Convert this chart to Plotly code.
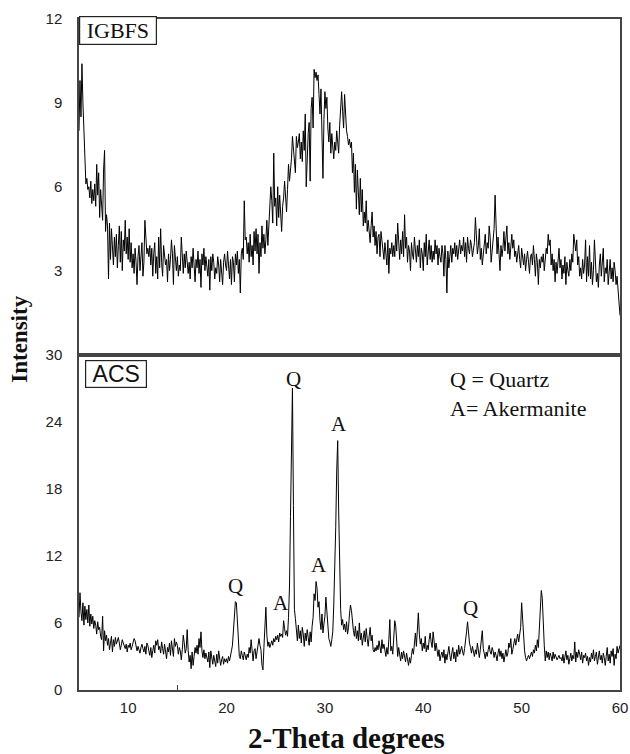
import numpy as np
import plotly.graph_objects as go
from plotly.subplots import make_subplots

# 2-theta grid: 5.0 to 60.0 in 0.1 deg steps
two_theta = [round(5 + 0.1 * i, 1) for i in range(551)]

igbfs = [
    8.0, 9.8, 8.5, 10.4, 9.0, 8.2, 7.2, 6.1, 6.3, 5.9,
    6.0, 5.6, 6.2, 5.4, 5.9, 5.5, 6.1, 5.3, 6.8, 5.7,
    6.5, 4.9, 5.9, 5.2, 4.8, 6.6, 7.3, 4.4, 5.0, 4.6,
    2.7, 4.7, 3.4, 4.5, 3.9, 3.2, 4.2, 3.5, 4.3, 3.1,
    3.9, 4.6, 3.3, 4.4, 3.0, 4.1, 3.7, 4.8, 3.6, 4.2,
    3.4, 4.5, 3.3, 4.0, 3.1, 3.6, 2.9, 3.8, 3.3, 2.5,
    3.5, 3.9, 3.0, 3.7, 4.0, 2.8, 3.3, 4.8, 4.3, 3.6,
    3.8, 3.5, 3.9, 3.2, 3.8, 2.8, 3.6, 4.0, 2.9, 3.5,
    2.7, 4.2, 3.1, 4.5, 3.3, 2.8, 3.9, 3.5, 3.2, 3.4,
    2.6, 3.6, 3.0, 3.4, 4.1, 3.6, 2.5, 3.9, 3.3, 3.0,
    3.5, 2.8, 3.2, 3.0, 4.2, 3.3, 2.9, 3.6, 3.1, 3.7,
    3.4, 2.9, 3.3, 2.7, 3.5, 3.1, 3.8, 3.2, 2.6, 3.4,
    3.1, 3.7, 2.9, 3.4, 2.4, 3.6, 3.2, 3.8, 3.0, 3.5,
    3.2, 2.8, 3.4, 2.3, 3.5, 3.0, 3.6, 3.3, 2.7, 3.1,
    2.9, 3.5, 3.2, 2.6, 3.4, 3.0, 2.5, 3.3, 3.6, 3.2,
    3.0, 3.7, 3.2, 2.7, 3.4, 2.5, 3.5, 3.3, 2.6, 3.6,
    3.2, 3.7, 2.9, 3.4, 2.2, 3.6, 3.8, 3.4, 5.5, 4.1,
    4.2, 3.6, 4.0, 3.3, 4.3, 3.5, 3.9, 3.2, 4.4, 3.7,
    4.5, 3.6, 4.3, 2.9, 4.0, 3.5, 4.6, 3.8, 4.3, 3.6,
    4.1, 4.8, 3.9, 4.7, 5.2, 6.0, 5.5, 4.7, 7.2, 5.3,
    5.6, 4.6, 6.0, 4.9, 5.7, 5.2, 4.4, 5.3, 5.6, 6.2,
    5.8, 5.1, 5.9, 6.8, 6.2, 6.6, 7.0, 7.8, 7.3, 7.1,
    6.5, 7.8, 7.4, 7.6, 7.9, 7.0, 7.6, 6.9, 8.0, 7.3,
    8.6, 6.0, 7.5, 7.9, 8.3, 6.2, 8.8, 9.2, 8.1, 10.2,
    9.9, 10.1, 9.8, 10.0, 9.3, 8.6, 9.5, 8.0, 6.3, 8.4,
    9.4, 8.8, 9.2, 8.1, 7.6, 8.3, 7.2, 7.9, 7.4, 7.0,
    7.6, 7.3, 8.0, 7.5, 7.2, 8.2, 9.0, 9.4, 8.7, 8.1,
    9.3, 8.6, 8.0, 7.8, 7.5, 7.7, 7.4, 7.6, 6.5, 7.2,
    5.8, 6.8, 5.2, 6.6, 5.5, 5.0, 6.3, 5.1, 5.9, 4.6,
    5.1, 4.7, 5.5, 4.4, 4.8, 4.5, 4.0, 4.6, 5.1, 4.2,
    4.6, 3.9, 4.4, 3.6, 4.2, 4.3, 3.5, 4.4, 4.1, 3.8,
    3.4, 4.0, 3.7, 3.2, 4.1, 2.9, 3.8, 3.6, 4.0, 3.5,
    3.9, 3.5, 4.3, 3.7, 4.7, 3.9, 3.4, 4.1, 3.6, 4.4,
    3.5, 5.0, 3.8, 4.2, 3.3, 3.9, 3.7, 3.0, 4.0, 3.6,
    3.4, 4.2, 3.7, 3.3, 3.9, 3.5, 4.1, 3.1, 3.8, 3.6,
    3.0, 4.0, 3.5, 4.3, 3.2, 3.8, 4.1, 3.4, 3.9, 3.3,
    3.7, 3.4, 4.1, 3.6, 3.9, 3.2, 3.8, 3.5, 3.3, 3.9,
    3.6, 2.8, 3.9, 3.4, 2.2, 3.7, 3.1, 3.5, 3.9, 3.3,
    3.8, 3.6, 4.0, 3.5, 3.9, 3.4, 3.8, 4.1, 3.6, 3.9,
    3.7, 4.2, 3.5, 4.0, 3.3, 4.2, 3.8, 3.6, 4.1, 3.9,
    3.5, 3.8, 4.0, 4.9, 4.4, 3.6, 3.9, 4.5, 3.4, 3.8,
    3.2, 3.5, 3.9, 4.3, 3.6, 4.0, 3.8, 4.6, 4.2, 3.3,
    3.7, 4.1, 4.5, 5.7, 4.3, 3.6, 4.2, 3.7, 3.0, 3.9,
    3.5, 3.8, 4.4, 3.7, 4.1, 4.6, 3.6, 4.0, 3.4, 3.9,
    4.3, 3.8, 4.1, 3.5, 3.7, 3.3, 3.6, 3.9, 3.4, 3.1,
    3.8, 3.5, 3.2, 3.6, 3.0, 3.4, 3.7, 3.3, 2.9, 3.5,
    3.6, 3.2, 3.9, 3.4, 2.8, 3.6, 3.3, 2.5, 3.4, 3.1,
    3.5, 3.3, 3.6, 3.0, 3.4, 3.8, 3.6, 4.3, 3.9, 4.1,
    3.2, 3.6, 3.0, 3.4, 2.6, 3.3, 2.9, 3.5, 3.8, 3.1,
    3.4, 2.7, 3.2, 2.9, 3.5, 2.5, 3.3, 3.0, 2.8, 3.4,
    3.0, 3.6, 3.3, 4.3, 4.0, 3.7, 4.1, 3.2, 3.5, 2.8,
    3.1, 2.7, 3.4, 2.9, 3.2, 4.1, 2.6, 3.5, 2.8, 3.9,
    2.7, 3.3, 2.5, 3.0, 4.1, 3.4, 2.6, 2.9, 2.4, 3.2,
    3.6, 2.8, 3.3, 3.8, 2.6, 3.1, 2.9, 3.4, 2.5, 3.0,
    3.4, 2.7, 3.1, 2.6, 3.3, 3.0, 2.5, 2.8, 2.4, 1.9,
    1.4,
]

acs = [
    6.5, 8.7, 7.0, 6.2, 7.8, 5.8, 7.5, 6.3, 7.2, 6.0,
    7.6, 5.7, 6.8, 5.9, 6.6, 5.5, 6.2, 5.8, 5.0, 6.1,
    5.4, 5.6, 4.8, 4.5, 6.6, 3.5, 5.3, 4.4, 4.9, 4.0,
    4.6, 3.6, 4.2, 4.8, 3.4, 4.5, 3.9, 4.7, 4.1, 4.4,
    4.7, 4.2, 3.6, 4.0, 4.5, 4.2, 3.8, 3.7, 4.1, 3.4,
    4.0, 3.8, 4.2, 3.6, 3.9, 4.3, 4.6, 4.4, 4.0, 3.5,
    3.9, 3.6, 3.3, 3.8, 4.1, 3.7, 3.4, 3.9, 3.2, 4.2,
    4.0, 3.5, 3.1, 3.8, 2.9, 3.5, 4.0, 3.3, 4.4, 4.0,
    4.5, 3.6, 3.9, 3.3, 4.3, 3.7, 3.2, 4.1, 3.5, 2.8,
    3.8, 3.4, 4.2, 3.1, 4.4, 3.7, 3.0, 4.6, 3.9, 4.3,
    4.0, 3.2, 3.8, 3.5, 2.7, 3.6, 4.9, 4.2, 3.3, 3.7,
    5.4, 3.5, 2.5, 3.1, 1.9, 3.4, 2.2, 3.0, 3.8, 3.3,
    4.0, 3.2, 4.6, 3.8, 5.2, 3.5, 2.9, 3.6, 2.8, 3.3,
    3.0, 2.5, 3.4, 2.0, 3.5, 2.8, 2.3, 3.1, 2.6, 2.1,
    3.2, 2.4, 3.5, 2.9, 2.2, 2.7, 3.0, 2.3, 2.8, 2.5,
    2.8, 2.4, 3.0, 2.6, 3.3, 3.5, 4.0, 5.2, 6.4, 7.9,
    7.8, 6.0, 4.2, 3.0, 2.8, 3.5, 3.1, 2.7, 3.4, 3.0,
    2.7, 3.2, 2.9, 3.8, 3.3, 4.5, 3.0, 2.6, 3.5, 3.7,
    2.8, 3.4, 4.2, 4.6, 4.0, 3.6, 2.2, 1.8, 3.8, 5.5,
    7.4, 4.9, 3.9, 4.3, 3.8, 4.1, 4.4, 4.0, 4.6, 4.3,
    4.8, 4.5, 4.9, 4.3, 5.1, 4.8, 5.0, 4.7, 6.2, 5.5,
    4.9, 5.3, 4.8, 6.5, 9.3, 15.5, 23.5, 27.0, 16.5, 7.2,
    6.4, 5.2, 4.4, 5.8, 4.6, 5.3, 4.2, 5.6, 5.0, 3.9,
    5.1, 4.4, 5.4, 4.7, 4.0, 5.2, 4.3, 5.7, 6.5, 8.6,
    8.0, 9.7, 9.1, 7.4, 7.9, 6.2, 5.4, 6.8, 5.1, 5.9,
    6.6, 8.3, 7.2, 5.6, 4.6, 4.3, 3.9, 4.5, 5.2, 7.6,
    10.8, 14.5, 19.6, 22.3, 16.0, 9.5, 7.2, 5.8, 6.3, 5.4,
    5.9, 5.2, 6.1, 5.0, 5.6, 6.8, 7.6, 7.1, 5.9, 5.3,
    4.8, 5.7, 4.6, 5.3, 4.4, 6.0, 4.5, 5.1, 4.0, 4.7,
    5.3, 4.3, 5.5, 4.6, 3.9, 4.8, 5.6, 4.4, 4.9, 3.6,
    3.4, 3.8, 3.5, 4.0, 3.6, 4.4, 3.9, 3.3, 4.5, 3.7,
    4.1, 3.4, 3.0, 3.8, 3.2, 4.5, 6.3, 3.5, 3.9, 3.2,
    5.4, 6.2, 5.7, 3.6, 3.0, 3.8, 3.2, 2.6, 3.4, 2.8,
    3.5, 3.0, 2.5, 3.3, 2.7, 2.2, 2.9, 2.4, 3.1, 3.7,
    3.2, 4.6, 5.1, 3.9, 5.4, 6.9, 5.0, 4.1, 4.6, 3.5,
    4.2, 3.7, 4.8, 3.4, 4.0, 3.6, 4.5, 5.1, 4.3, 3.8,
    5.2, 4.0, 3.5, 4.2, 3.3, 3.0, 3.6, 2.6, 3.1, 3.4,
    2.9, 3.6, 2.4, 3.2, 2.7, 3.5, 3.9, 3.1, 2.6, 3.3,
    3.8, 2.8, 3.4, 2.5, 3.6, 3.0, 4.0, 3.2, 3.6, 3.9,
    3.4, 3.1, 3.7, 4.3, 5.2, 6.1, 5.0, 4.2, 3.8, 3.3,
    3.9, 3.4, 3.0, 3.6, 3.2, 4.2, 3.5, 2.9, 3.6, 4.5,
    5.3, 3.7, 3.1, 2.8, 3.4, 3.0, 3.6, 4.0, 3.4, 3.2,
    3.8, 3.5, 2.9, 3.4, 3.1, 2.6, 3.3, 3.7, 3.0, 3.5,
    2.8, 3.3, 2.5, 3.1, 3.6, 3.0, 3.3, 4.2, 3.8, 4.6,
    3.2, 3.6, 4.1, 4.6, 4.0, 4.5, 5.0, 4.3, 4.8, 5.6,
    7.8, 6.2, 4.6, 3.5, 2.9, 2.6, 2.9, 3.1, 2.8, 3.2,
    3.4, 3.0, 3.6, 3.3, 4.0, 3.5, 4.5, 3.8, 5.2, 7.0,
    8.9, 8.2, 5.3, 4.0, 2.6, 3.5, 2.9, 3.4, 2.7, 3.3,
    3.0, 2.6, 3.4, 2.8, 3.2, 2.9, 2.7, 2.9, 3.1, 2.8,
    2.9, 2.6, 3.2, 2.4, 3.0, 3.5, 2.7, 3.1, 2.3, 2.9,
    3.3, 2.6, 3.1, 2.8, 4.3, 2.5, 3.4, 2.9, 3.6, 3.2,
    2.7, 3.4, 2.4, 3.1, 2.9, 3.3, 2.6, 3.0, 2.2, 2.9,
    2.5, 3.3, 2.8, 3.6, 2.6, 3.0, 3.4, 2.3, 2.9, 3.5,
    2.7, 3.1, 2.4, 3.3, 2.9, 2.2, 3.0, 3.8, 2.6, 3.2,
    2.4, 3.5, 3.0, 3.7, 2.2, 3.2, 2.8, 3.9, 3.3, 3.6,
    4.0,
]

x_ticks = [10, 20, 30, 40, 50, 60]
top_ticks = [3, 6, 9, 12]
bottom_ticks = [0, 6, 12, 18, 24, 30]

# peak labels for the ACS pattern: (2-theta, intensity, label)
peak_x = [20.9, 25.5, 26.8, 29.4, 31.4, 44.8]
peak_y = [9.3, 7.8, 27.8, 11.2, 23.8, 7.3]
peak_lbl = ["Q", "A", "Q", "A", "A", "Q"]

SERIF = "Liberation Serif, Times New Roman, serif"
SANS = "Liberation Sans, Arial, sans-serif"
FRAME = "#444444"

fig = make_subplots(rows=2, cols=1, shared_xaxes=True, vertical_spacing=0)

fig.add_trace(go.Scatter(x=two_theta, y=igbfs, mode="lines",
                         line=dict(color="black", width=1), showlegend=False,
                         hoverinfo="skip"),
              row=1, col=1)
fig.add_trace(go.Scatter(x=two_theta, y=acs, mode="lines",
                         line=dict(color="black", width=1), showlegend=False,
                         hoverinfo="skip"),
              row=2, col=1)

axis_common = dict(showgrid=False, zeroline=False, showline=True, mirror=True,
                   linecolor=FRAME, linewidth=1.5, ticks="", automargin=False,
                   tickfont=dict(family=SANS, size=15, color="#222222"))

fig.update_xaxes(range=[5, 60], tickvals=x_ticks, **axis_common)
fig.update_xaxes(showticklabels=False, row=1, col=1)
fig.update_xaxes(ticklabelstandoff=3, row=2, col=1,
                 minor=dict(tickvals=[15], ticks="inside", ticklen=5,
                            tickcolor=FRAME, tickwidth=1.2, showgrid=False))
fig.update_yaxes(range=[0, 12], tickvals=top_ticks, ticklabelstandoff=12,
                 row=1, col=1, **axis_common)
fig.update_yaxes(range=[0, 30], tickvals=bottom_ticks, ticklabelstandoff=12,
                 row=2, col=1, **axis_common)

annotations = []
for px_, py_, lb in zip(peak_x, peak_y, peak_lbl):
    annotations.append(dict(x=px_, y=py_, xref="x2", yref="y2", text=lb,
                            showarrow=False, font=dict(family=SERIF, size=21, color="#111")))

annotations += [
    dict(x=42.5, y=27.8, xref="x2", yref="y2", text="Q = Quartz", xanchor="left",
         showarrow=False, font=dict(family=SERIF, size=22, color="#111")),
    dict(x=42.5, y=25.2, xref="x2", yref="y2", text="A= Akermanite", xanchor="left",
         showarrow=False, font=dict(family=SERIF, size=22, color="#111")),
    dict(x=0, y=1, xref="paper", yref="paper", xanchor="left", yanchor="top",
         yshift=3, text="&nbsp;IGBFS&nbsp;", showarrow=False, bgcolor="white",
         bordercolor="#222", borderwidth=1.2, borderpad=1,
         font=dict(family=SERIF, size=22, color="#111")),
    dict(x=0.011, y=0.492, xref="paper", yref="paper", xanchor="left", yanchor="top",
         text="&nbsp;ACS&nbsp;", showarrow=False, bordercolor="#222", borderwidth=1.2,
         borderpad=0, font=dict(family=SANS, size=23, color="#111")),
    dict(x=0.495, y=-0.072, xref="paper", yref="paper", xanchor="center", yanchor="middle",
         text="<b>2-Theta degrees</b>", showarrow=False,
         font=dict(family=SERIF, size=29, color="#111")),
    dict(x=-0.109, y=0.522, xref="paper", yref="paper", xanchor="center", yanchor="middle",
         text="<b>Intensity</b>", textangle=-90, showarrow=False,
         font=dict(family=SERIF, size=23, color="#111")),
]

fig.update_layout(
    width=630, height=754,
    margin=dict(l=79, r=10, t=19, b=64),
    paper_bgcolor="white", plot_bgcolor="white",
    annotations=annotations,
    showlegend=False,
    hovermode=False,
)

fig.write_html("out.html", config={"displayModeBar": False},
               post_script="document.body.style.margin='0px';document.body.style.overflow='hidden';")
